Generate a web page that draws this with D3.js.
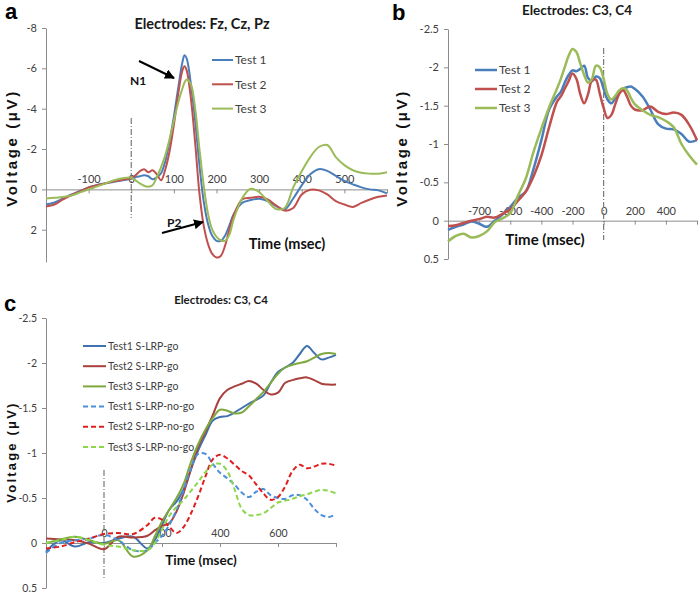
<!DOCTYPE html>
<html><head><meta charset="utf-8">
<script src="https://cdn.jsdelivr.net/npm/d3@7"></script>
<style>
html,body{margin:0;padding:0;background:#fff;}
svg{display:block;}
</style></head>
<body>
<script>
// ---------- Panel a data (Electrodes: Fz, Cz, Pz) ----------
const tA = [-200,-180,-160,-140,-120,-100,-80,-60,-40,-20,0,10,20,30,40,50,60,70,80,90,100,110,120,125,130,140,150,160,170,180,190,200,210,220,230,240,260,280,300,320,340,360,380,400,420,440,460,480,500,520,540,560,580,600];
const test1A = [0.75,0.65,0.45,0.25,0.08,-0.1,-0.22,-0.3,-0.38,-0.45,-0.52,-0.6,-0.65,-0.7,-0.65,-0.5,-0.6,-0.8,-1.4,-2.4,-3.6,-5.0,-6.3,-6.65,-6.5,-5.2,-3.4,-1.2,0.6,1.7,2.3,2.55,2.55,2.3,1.8,1.25,0.67,0.53,0.47,0.58,0.83,1.0,0.45,-0.2,-0.75,-1.0,-0.92,-0.67,-0.42,-0.25,-0.1,0.0,0.05,0.2];
const test2A = [0.85,0.75,0.5,0.28,0.1,-0.1,-0.2,-0.3,-0.4,-0.48,-0.55,-0.7,-0.9,-1.0,-0.85,-0.95,-0.75,-0.45,-1.0,-1.9,-3.2,-4.7,-5.9,-6.1,-5.9,-4.5,-2.3,0.2,1.8,2.7,3.2,3.38,3.3,2.8,2.0,1.3,0.5,0.42,0.37,0.5,0.8,1.05,0.92,0.25,0.02,0.05,0.25,0.58,0.75,0.87,0.67,0.5,0.37,0.3];
const test3A = [0.45,0.42,0.38,0.3,0.15,0.0,-0.15,-0.3,-0.45,-0.55,-0.58,-0.45,-0.3,-0.18,-0.13,-0.2,-0.6,-1.1,-1.7,-2.5,-3.4,-4.3,-5.0,-5.3,-5.45,-5.2,-4.0,-2.0,-0.2,1.2,2.0,2.35,2.52,2.55,2.25,1.5,0.45,-0.03,0.13,0.58,0.97,0.92,-0.1,-0.9,-1.6,-2.1,-2.2,-1.6,-1.2,-0.95,-0.82,-0.78,-0.78,-0.85];
const yTicksA = [-8,-6,-4,-2,0,2];
const xTicksA = [-200,-100,0,100,200,300,400,500,600];
const xLabelsA = ["","-100","0","100","200","300","400","500",""];

// ---------- Panel b data (Electrodes: C3, C4) ----------
const tB = [-1000,-950,-900,-850,-800,-750,-700,-650,-600,-550,-500,-450,-400,-350,-300,-275,-250,-225,-200,-175,-150,-125,-100,-75,-50,-25,0,25,50,75,100,125,150,175,200,250,300,350,400,450,500,550,600];
const test1B = [0.12,0.08,0.05,0.01,0.04,0.08,0.0,-0.08,-0.18,-0.3,-0.38,-0.68,-1.05,-1.45,-1.62,-1.68,-1.8,-1.9,-1.96,-1.95,-1.98,-2.02,-1.86,-1.82,-1.88,-1.86,-1.72,-1.58,-1.53,-1.6,-1.68,-1.72,-1.74,-1.75,-1.72,-1.62,-1.45,-1.26,-1.2,-1.19,-1.13,-1.03,-1.05];
const test2B = [0.07,0.06,0.03,0.0,-0.02,-0.05,-0.04,-0.09,-0.15,-0.26,-0.38,-0.58,-0.85,-1.22,-1.55,-1.62,-1.72,-1.82,-1.92,-1.85,-1.65,-1.53,-1.65,-1.83,-1.84,-1.66,-1.47,-1.34,-1.38,-1.52,-1.65,-1.7,-1.62,-1.5,-1.45,-1.44,-1.49,-1.42,-1.39,-1.41,-1.38,-1.25,-1.05];
const test3B = [0.27,0.2,0.17,0.22,0.2,0.14,0.02,-0.03,-0.1,-0.33,-0.55,-0.9,-1.2,-1.48,-1.72,-1.85,-2.0,-2.15,-2.24,-2.2,-2.05,-1.9,-1.8,-1.85,-2.02,-2.0,-1.85,-1.65,-1.58,-1.63,-1.7,-1.73,-1.7,-1.6,-1.52,-1.44,-1.38,-1.35,-1.3,-1.22,-1.0,-0.85,-0.73];
const yTicksBC = [-2.5,-2,-1.5,-1,-0.5,0,0.5];
const xTicksB = [-1000,-800,-600,-400,-200,0,200,400,600];
const xLabelsB = ["","-700","-600","-400","-200","0","200","400",""];

// ---------- Panel c data (Electrodes: C3, C4, S-LRP) ----------
const tC = [-200,-150,-100,-50,0,50,100,150,175,200,225,250,275,300,325,350,375,400,425,450,475,500,525,550,575,600,625,650,675,700,725,750,775,800];
const test1Go = [0.1,-0.03,0.04,-0.01,0.0,-0.05,-0.07,0.06,-0.03,-0.2,-0.37,-0.46,-0.6,-0.82,-1.03,-1.2,-1.36,-1.4,-1.41,-1.45,-1.5,-1.55,-1.59,-1.64,-1.78,-1.9,-1.95,-2.0,-2.1,-2.19,-2.11,-2.04,-2.06,-2.09];
const test2Go = [-0.05,-0.04,-0.03,0.01,0.07,-0.07,-0.06,-0.08,-0.14,-0.19,-0.22,-0.35,-0.56,-0.82,-1.07,-1.24,-1.42,-1.61,-1.7,-1.74,-1.77,-1.8,-1.77,-1.7,-1.65,-1.67,-1.78,-1.81,-1.83,-1.84,-1.81,-1.77,-1.76,-1.76];
const test3Go = [0.0,-0.04,-0.07,-0.03,0.01,-0.03,0.15,0.08,-0.07,-0.24,-0.37,-0.5,-0.66,-0.9,-1.1,-1.26,-1.39,-1.48,-1.47,-1.44,-1.45,-1.52,-1.6,-1.68,-1.78,-1.88,-1.95,-1.98,-2.0,-2.02,-2.06,-2.1,-2.11,-2.1];
const test1NoGo = [0.11,0.0,-0.03,-0.05,-0.09,-0.03,0.08,0.08,0.0,-0.08,-0.2,-0.37,-0.59,-0.83,-0.99,-0.99,-0.88,-0.78,-0.72,-0.65,-0.56,-0.51,-0.57,-0.6,-0.53,-0.5,-0.49,-0.53,-0.53,-0.48,-0.38,-0.31,-0.29,-0.32];
const test2NoGo = [0.06,0.04,-0.01,-0.05,-0.1,-0.11,-0.1,-0.2,-0.28,-0.26,-0.18,-0.11,-0.18,-0.33,-0.52,-0.74,-0.93,-0.98,-0.94,-0.87,-0.8,-0.75,-0.65,-0.55,-0.48,-0.51,-0.63,-0.8,-0.87,-0.83,-0.85,-0.88,-0.88,-0.86];
const test3NoGo = [0.0,-0.03,-0.07,-0.03,0.02,0.04,0.08,0.08,0.0,-0.15,-0.3,-0.4,-0.48,-0.58,-0.68,-0.79,-0.87,-0.88,-0.8,-0.6,-0.38,-0.31,-0.31,-0.33,-0.39,-0.45,-0.47,-0.49,-0.52,-0.54,-0.57,-0.59,-0.58,-0.55];
const xTicksC = [-200,0,200,400,600,800];
const xLabelsC = ["","0","200","400","600",""];
const legendC = ["Test1 S-LRP-go","Test2 S-LRP-go","Test3 S-LRP-go","Test1 S-LRP-no-go","Test2 S-LRP-no-go","Test3 S-LRP-no-go"];

// ---------- drawing ----------
const W = 700, H = 593;
const svg = d3.select("body").append("svg").attr("width", W).attr("height", H);

const BLUE = "#4A7EBB", RED = "#C0504D", GREEN = "#9BBB59";
const AXC = "#8c8c8c", TXT = "#404040";
const FONT = "Lato, 'Open Sans', sans-serif";

function drawPanel(o) {
  const g = svg.append("g");
  const x = d3.scaleLinear().domain(o.xDomain).range(o.xRange);
  const y = d3.scaleLinear().domain(o.yDomain).range(o.yRange);
  const ya = g.append("g").attr("transform", `translate(${o.xRange[0]},0)`)
    .call(d3.axisLeft(y).tickValues(o.yTicks).tickSize(4).tickSizeOuter(0).tickPadding(5).tickFormat(d => String(d)));
  ya.select(".domain").attr("stroke", AXC);
  ya.selectAll(".tick line").attr("stroke", AXC);
  ya.selectAll("text").attr("fill", TXT).style("font-family", FONT).style("font-size", o.tickFont + "px");
  const xa = g.append("g").attr("transform", `translate(0,${y(0)})`)
    .call(d3.axisTop(x).tickValues(o.xTicks).tickSizeInner(-4).tickSizeOuter(0).tickPadding(6)
      .tickFormat((d, i) => o.xLabels[i]));
  xa.select(".domain").attr("stroke", AXC);
  xa.selectAll(".tick line").attr("stroke", AXC);
  xa.selectAll("text").attr("fill", TXT).style("font-family", FONT).style("font-size", o.tickFont + "px");
  g.append("line").attr("x1", x(0)).attr("x2", x(0)).attr("y1", o.zeroLine[0]).attr("y2", o.zeroLine[1])
    .attr("stroke", "#7a7a7a").attr("stroke-width", 1.2).attr("stroke-dasharray", "6,2,1,2");
  const line = d3.line().x((d, i) => x(o.t[i])).y(d => y(d)).curve(d3.curveCatmullRom.alpha(0.5));
  o.series.forEach(s => {
    g.append("path").attr("d", line(s.v)).attr("fill", "none").attr("stroke", s.color)
      .attr("stroke-width", o.lw).attr("stroke-dasharray", s.dash || null).attr("stroke-linejoin", "round");
  });
  g.append("text").attr("x", o.title[1]).attr("y", o.title[2]).attr("text-anchor", "middle")
    .style("font-family", FONT).style("font-weight", "bold").style("font-size", o.title[3] + "px")
    .attr("fill", "#1a1a1a").text(o.title[0]);
  g.append("text").attr("x", o.xTitle[0]).attr("y", o.xTitle[1]).attr("text-anchor", "middle")
    .style("font-family", FONT).style("font-weight", "bold").style("font-size", o.xTitle[2] + "px")
    .attr("fill", "#111").text("Time (msec)");
  g.append("text").attr("transform", `translate(${o.yTitle[0]},${o.yTitle[1]}) rotate(-90)`).attr("text-anchor", "middle")
    .style("font-family", "'Liberation Sans', Arial, sans-serif").style("font-weight", "bold").style("font-size", o.yTitle[2] + "px")
    .style("letter-spacing", o.yTitle[3] + "px").attr("fill", "#111").text("Voltage (μV)");
  o.series.forEach((s, i) => {
    const ly = o.legend.y0 + i * o.legend.dy;
    g.append("line").attr("x1", o.legend.x0).attr("x2", o.legend.x1).attr("y1", ly).attr("y2", ly)
      .attr("stroke", s.color).attr("stroke-width", o.lw).attr("stroke-dasharray", s.dash || null);
    g.append("text").attr("x", o.legend.x1 + 2).attr("y", ly).attr("dy", "0.35em")
      .style("font-family", FONT).style("font-size", o.legend.fs + "px").attr("fill", TXT).text(s.name);
  });
  g.append("text").attr("x", o.letter[1]).attr("y", o.letter[2]).style("font-family", "'Liberation Sans', Arial, sans-serif")
    .style("font-weight", "bold").style("font-size", "22px").attr("fill", "#000").text(o.letter[0]);
  return {g, x, y};
}

// Panel a
const pa = drawPanel({
  xDomain: [-200, 600], xRange: [46, 387], yDomain: [-8, 3.6], yRange: [28, 262],
  yTicks: yTicksA, xTicks: xTicksA, xLabels: xLabelsA, tickFont: 11, t: tA, lw: 2,
  zeroLine: [118, 218],
  series: [{name: "Test 1", v: test1A, color: BLUE}, {name: "Test 2", v: test2A, color: RED}, {name: "Test 3", v: test3A, color: GREEN}],
  title: ["Electrodes: Fz, Cz, Pz", 202, 29, 14.5],
  xTitle: [287, 249, 14.5], yTitle: [17, 148, 15, 2.6],
  legend: {x0: 212, x1: 233, y0: 60, dy: 24.3, fs: 12},
  letter: ["a", 5, 19]
});
const defs = svg.append("defs");
defs.append("marker").attr("id", "arr").attr("viewBox", "0 0 10 10").attr("refX", 9).attr("refY", 5)
  .attr("markerWidth", 5).attr("markerHeight", 5).attr("orient", "auto")
  .append("path").attr("d", "M0,0 L10,5 L0,10 z").attr("fill", "#000");
pa.g.append("line").attr("x1", 139).attr("y1", 61).attr("x2", 174).attr("y2", 78).attr("stroke", "#000").attr("stroke-width", 2).attr("marker-end", "url(#arr)");
pa.g.append("line").attr("x1", 162).attr("y1", 233).attr("x2", 203).attr("y2", 222).attr("stroke", "#000").attr("stroke-width", 2).attr("marker-end", "url(#arr)");
pa.g.append("text").attr("x", 130).attr("y", 85).style("font-family", FONT).style("font-weight", "bold").style("font-size", "12px").attr("fill", "#111").text("N1");
pa.g.append("text").attr("x", 167).attr("y", 227).style("font-family", FONT).style("font-weight", "bold").style("font-size", "12px").attr("fill", "#111").text("P2");

// Panel b
drawPanel({
  xDomain: [-1000, 600], xRange: [448, 697], yDomain: [-2.5, 0.5], yRange: [29, 259],
  yTicks: yTicksBC, xTicks: xTicksB, xLabels: xLabelsB, tickFont: 11, t: tB, lw: 2.5,
  zeroLine: [48, 240],
  series: [{name: "Test 1", v: test1B, color: BLUE}, {name: "Test 2", v: test2B, color: RED}, {name: "Test 3", v: test3B, color: GREEN}],
  title: ["Electrodes: C3, C4", 577, 15, 13.5],
  xTitle: [545, 245, 15], yTitle: [407, 148, 15, 2.6],
  legend: {x0: 475, x1: 497, y0: 70, dy: 19, fs: 12},
  letter: ["b", 392, 20]
});

// Panel c
drawPanel({
  xDomain: [-200, 800], xRange: [46, 336], yDomain: [-2.5, 0.5], yRange: [318, 588],
  yTicks: yTicksBC, xTicks: xTicksC, xLabels: xLabelsC, tickFont: 10.5, t: tC, lw: 2,
  zeroLine: [470, 578],
  series: [
    {name: legendC[0], v: test1Go, color: "#3F72AF"},
    {name: legendC[1], v: test2Go, color: "#A9403D"},
    {name: legendC[2], v: test3Go, color: "#7FA83E"},
    {name: legendC[3], v: test1NoGo, color: "#4A8FD9", dash: "5,3"},
    {name: legendC[4], v: test2NoGo, color: "#E01E1E", dash: "5,3"},
    {name: legendC[5], v: test3NoGo, color: "#8DD64A", dash: "5,3"}
  ],
  title: ["Electrodes: C3, C4", 221, 304, 11.5],
  xTitle: [201, 565, 13.5], yTitle: [16, 452, 13, 2.2],
  legend: {x0: 83, x1: 106, y0: 346, dy: 20.2, fs: 10.5},
  letter: ["c", 4, 311]
});
</script>
</body></html>
